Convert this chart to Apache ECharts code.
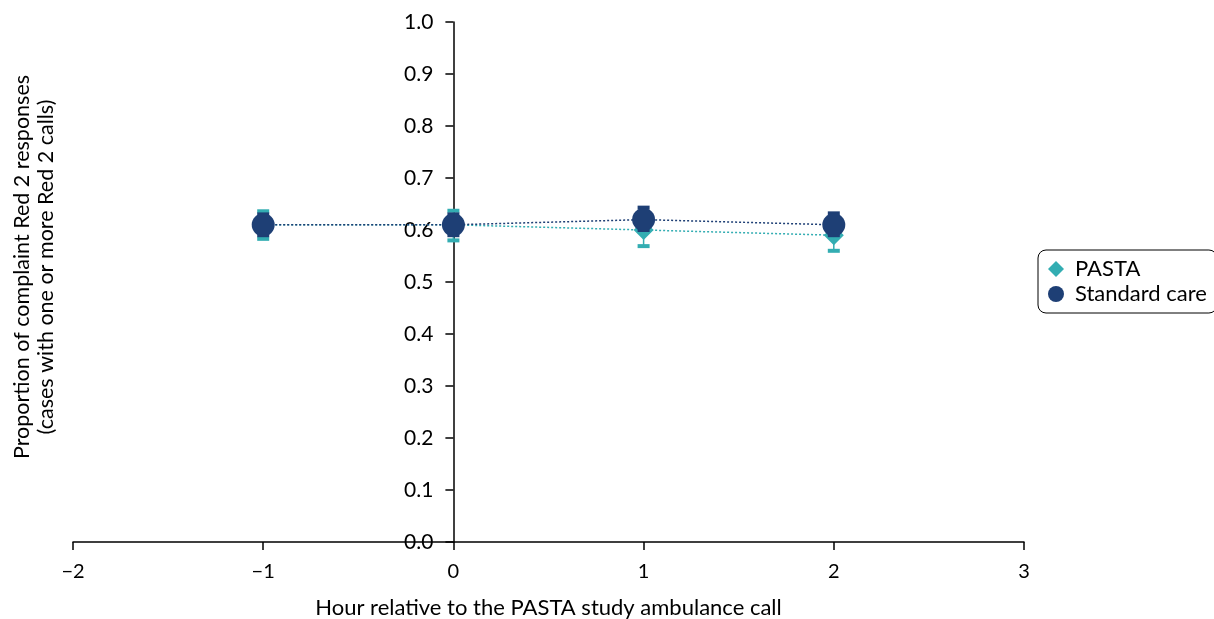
<!DOCTYPE html>
<html>
<head>
<meta charset="utf-8">
<script src="https://cdn.jsdelivr.net/npm/echarts@6/dist/echarts.min.js"></script>
<style>html,body{margin:0;padding:0;background:#fff}#c{width:1214px;height:619px}</style>
</head>
<body>
<div id="c"></div>
<script>
const hours = [-1, 0, 1, 2];
const pastaValues = [0.61, 0.61, 0.60, 0.59];
const pastaLow = [0.583, 0.580, 0.569, 0.560];
const pastaHigh = [0.636, 0.637, 0.630, 0.620];
const standardValues = [0.61, 0.61, 0.62, 0.61];
const standardLow = [0.590, 0.590, 0.600, 0.590];
const standardHigh = [0.630, 0.630, 0.643, 0.632];
const seriesNames = ['PASTA', 'Standard care'];
const xTitle = 'Hour relative to the PASTA study ambulance call';
const yTitle = ['Proportion of complaint Red 2 responses', '(cases with one or more Red 2 calls)'];

const TEAL = '#33adb2';
const NAVY = '#1e3f75';
const FONT = 'Lato, "Open Sans", sans-serif';

const GRID_L = 73, GRID_R = 190, W = 1214;
const X_MIN = -2, X_MAX = 3;
const yAxisOffset = -((0 - X_MIN) / (X_MAX - X_MIN)) * (W - GRID_L - GRID_R);

function errData(lo, hi) { return hours.map((h, i) => [h, lo[i], hi[i]]); }
function errRender(color) {
  return function (params, api) {
    const x = api.value(0);
    const lo = api.coord([x, api.value(1)]);
    const hi = api.coord([x, api.value(2)]);
    const hw = 6;
    const st = { stroke: color, lineWidth: 4 };
    return { type: 'group', children: [
      { type: 'line', shape: { x1: lo[0], y1: lo[1], x2: hi[0], y2: hi[1] }, style: { stroke: color, lineWidth: 1.5 } },
      { type: 'line', shape: { x1: lo[0] - hw, y1: lo[1], x2: lo[0] + hw, y2: lo[1] }, style: st },
      { type: 'line', shape: { x1: hi[0] - hw, y1: hi[1], x2: hi[0] + hw, y2: hi[1] }, style: st }
    ]};
  };
}

const chart = echarts.init(document.getElementById('c'), null, { renderer: 'canvas' });
chart.setOption({
  animation: false,
  textStyle: { fontFamily: FONT },
  grid: { left: GRID_L, right: GRID_R, top: 22, bottom: 77, outerBoundsMode: 'none', containLabel: false },
  legend: {
    data: [ { name: seriesNames[0], icon: 'diamond' }, { name: seriesNames[1], icon: 'circle' } ],
    orient: 'vertical', left: 1038, top: 250,
    itemWidth: 16, itemHeight: 16, itemGap: 3,
    padding: [8, 10, 8, 10],
    borderColor: '#000', borderWidth: 1, borderRadius: 8,
    textStyle: { fontSize: 22, color: '#000', fontFamily: FONT, padding: [0, 0, 0, 6] }
  },
  xAxis: {
    type: 'value', min: X_MIN, max: X_MAX, interval: 1,
    name: xTitle, nameLocation: 'middle', nameGap: 55,
    nameTextStyle: { fontSize: 22, color: '#000', fontFamily: FONT },
    axisLine: { onZero: false, lineStyle: { color: '#000', width: 1.5 } },
    axisTick: { show: true, length: 8, lineStyle: { color: '#000', width: 1.5 } },
    axisLabel: { fontSize: 20, color: '#000', margin: 20, fontFamily: FONT,
      formatter: v => String(v).replace('-', '\u2212') },
    splitLine: { show: false }
  },
  yAxis: {
    type: 'value', min: 0, max: 1, interval: 0.1,
    offset: yAxisOffset,
    axisLine: { onZero: false, lineStyle: { color: '#000', width: 1.5 } },
    axisTick: { show: true, length: 8, lineStyle: { color: '#000', width: 1.5 } },
    axisLabel: { fontSize: 21, color: '#000', margin: 20, fontFamily: FONT, formatter: v => v.toFixed(1) },
    splitLine: { show: false }
  },
  graphic: [{
    type: 'text', rotation: Math.PI / 2, x: 34, y: 267,
    style: { text: yTitle.join('\n'), fontSize: 21.5, lineHeight: 24, fill: '#000', fontFamily: FONT,
      align: 'center', verticalAlign: 'middle' }
  }],
  series: [
    { name: seriesNames[0], type: 'line', data: hours.map((h, i) => [h, pastaValues[i]]),
      symbol: 'diamond', symbolSize: 20, itemStyle: { color: TEAL },
      lineStyle: { color: TEAL, width: 1.5, type: [2, 2] }, z: 2 },
    { name: 'PASTA CI', type: 'custom', data: errData(pastaLow, pastaHigh), renderItem: errRender(TEAL), z: 3 },
    { name: 'Standard CI', type: 'custom', data: errData(standardLow, standardHigh), renderItem: errRender(NAVY), z: 4 },
    { name: seriesNames[1], type: 'line', data: hours.map((h, i) => [h, standardValues[i]]),
      symbol: 'circle', symbolSize: 23, itemStyle: { color: NAVY },
      lineStyle: { color: NAVY, width: 1.5, type: [2, 2] }, z: 5 }
  ]
});
</script>
</body>
</html>
